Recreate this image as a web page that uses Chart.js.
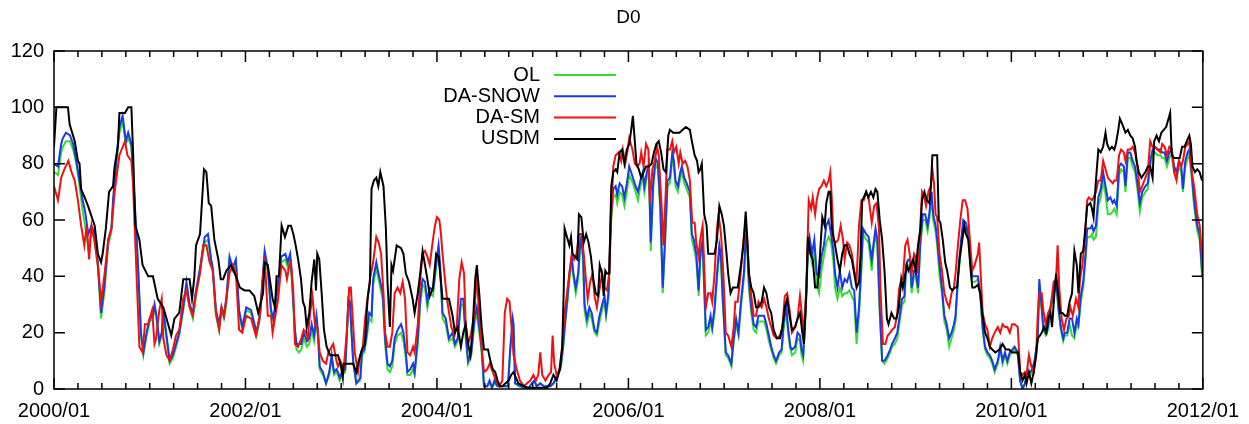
<!DOCTYPE html>
<html>
<head>
<meta charset="utf-8">
<script src="https://cdn.jsdelivr.net/npm/chart.js@4/dist/chart.umd.min.js"></script>
<style>
  body { margin: 0; background: #fff; }
  #wrap { width: 1249px; height: 424px; }
</style>
</head>
<body>
<div id="wrap"><canvas id="D0Chart" width="1249" height="424"></canvas></div>
<script>
// x = months since 2000/01, y = percent area
var usdm = [
  [0,86],[0.3,100],[1.75,100],[1.96,94],[2.6,88],[3.0,81],[3.2,80],[3.4,71],[3.85,68],[4.26,65],[5.1,58],[5.5,48],[5.9,45],[6.1,48],[6.5,57],[6.9,70],[7.4,72],[7.6,79],[8.0,86],[8.2,98],[8.9,98],[9.3,100],[9.7,100],[9.9,85],[10.2,58],[10.7,53],[11.1,44],[11.8,40],[12.4,40],[13.0,32],[13.7,29],[14.1,25],[14.7,19],[15.1,25],[15.7,27],[16.2,39],[17.0,39],[17.3,32],[17.6,40],[17.8,51],[18.3,55],[18.8,78],[19.1,77],[19.4,66],[19.7,65],[20.1,53],[20.6,46],[20.9,39],[21.2,39],[21.6,42],[22.2,44],[22.8,40],[23.3,36],[23.9,35],[24.5,35],[25.1,33],[25.6,27],[26.2,34],[26.4,45],[26.8,44],[27.4,32],[27.7,29],[27.9,40],[28.2,40],
  [28.53,58],[28.95,54],[29.37,58],[29.7,58],[30.0,55],[30.29,51],[30.6,46],[30.96,39],[31.2,31],[31.45,29],[31.67,22],[32.0,27],[32.29,38],[32.63,46],[32.84,35],[33.0,48],[33.25,46],[33.55,34],[33.84,21],[34.17,15],[34.6,12],[35.2,12],[35.6,12],[35.97,8],[36.2,4],[36.3,9],[36.7,9],[37.5,9],[37.9,6],[38.1,9],[38.6,14],[38.97,16],[39.3,32],[39.6,38],[39.8,71],[40.1,74],[40.4,75],[40.65,72],[40.9,77],[41.3,72],[41.6,57],[41.8,38],[42.1,22],[42.3,44],[42.5,42],[42.95,51],
  [43.5,50],[43.8,48],[44.1,41],[44.5,38],[44.95,32],[45.2,27],[45.6,34],[45.9,41],[46.2,49],[46.5,44],[46.8,39],[47.1,33],[47.5,36],[47.9,48],[48.2,47],[48.4,41],[48.7,32],[49.1,32],[49.5,32],[49.96,26],[50.25,20],[50.6,22],[51.0,15],[51.3,20],[51.6,23],[51.9,16],[52.2,12],[52.5,23],[52.8,39],[53.0,44],[53.3,34],[53.6,22],[53.9,14],[54.4,14],[54.7,10],[55.0,7],[55.3,6],[55.6,3],[55.9,1],[56.2,1],[56.6,2],[57.0,3],[57.3,5],[57.6,6],
  [58.2,2],[58.9,1],[59.5,0.4],[60.1,0.4],[60.7,0.4],[61.4,0.4],[61.8,0.4],[62.2,2],[62.6,5],[63.0,3],[63.4,7],[63.7,15],[63.9,36],[64.0,57],[64.3,54],[64.6,51],[64.8,54],[65.0,48],[65.3,47],[65.6,46],[65.8,62],[66.1,61],[66.4,52],[66.7,55],[67.0,52],[67.3,47],[67.6,39],[67.9,34],[68.2,33],[68.4,44],[68.7,41],[68.9,33],[69.1,42],[69.3,41],[69.6,41],[69.85,72],[70.1,77],[70.4,78],[70.6,77],[70.9,84],[71.2,85],[71.5,80],[71.8,85],[72.1,87],
  [72.35,92],[72.56,97],[72.8,88],[73.0,80],[73.3,78],[73.6,75],[73.9,77],[74.2,79],[74.56,79],[74.9,80],[75.2,84],[75.5,87],[75.8,88],[76.1,84],[76.4,78],[76.7,77],[77.0,90],[77.2,92],[77.6,91],[78.0,91],[78.4,91],[78.8,92],[79.2,93],[79.7,92],[79.95,88],[80.3,83],[80.6,81],[80.8,77],[81.0,78],[81.2,80],[81.5,62],[81.8,58],[82.0,48],[82.4,48],[82.8,48],[83.1,53],[83.4,65],[83.7,62],[83.97,58],[84.3,48],[84.5,41],[84.8,34],[85.1,36],[85.4,36],[85.7,36],[86.1,44],[86.4,51],[86.7,63],[86.9,53],
  [87.1,41],[87.4,36],[87.7,34],[88.0,29],[88.3,29],[88.7,31],[89.0,36],[89.3,34],[89.6,29],[89.9,27],[90.2,21],[90.6,18],[91.0,18],[91.3,22],[91.6,29],[91.9,32],[92.2,26],[92.5,21],[92.9,22],[93.2,25],[93.5,27],[93.8,20],[94.0,16],[94.3,34],[94.5,54],[94.8,48],[95.1,46],[95.4,36],[95.7,36],[96.0,47],[96.3,61],[96.6,58],[96.8,66],[97.1,70],[97.3,70],[97.5,57],[97.9,51],[98.2,46],[98.5,42],[98.8,48],[99.1,51],[99.4,51],[99.7,48],[100.0,46],[100.3,41],[100.6,36],[100.9,38],[101.1,48],[101.3,67],
  [101.5,68],[101.8,70],[102.05,68],[102.4,70],[102.7,68],[102.97,71],[103.2,70],[103.5,60],[103.8,53],[104.1,42],[104.4,25],[104.6,23],[104.97,27],[105.3,25],[105.6,25],[105.9,29],[106.2,39],[106.4,36],[106.6,39],[106.9,44],[107.1,42],[107.4,44],[107.7,46],[108.0,42],[108.3,51],[108.6,57],[108.8,67],[109.1,70],[109.4,67],[109.7,66],[109.9,71],[110.1,83],[110.4,83],[110.7,83],[110.9,60],[111.1,59],[111.4,53],[111.7,45],[111.95,42],[112.3,36],[112.6,35],[112.9,36],[113.2,36],[113.5,46],[113.8,52],[114.1,58],[114.3,55],[114.6,53],[114.9,42],[115.1,36],[115.4,36],[115.8,37],
  [116.1,34],[116.4,26],[116.7,20],[117.0,18],[117.3,15],[117.6,14],[118.0,13],[118.5,14],[118.9,16],[119.3,14],[119.7,14],[120.1,13],[120.6,13],[120.85,13],[121.1,6],[121.4,3],[121.7,5],[121.9,2],[122.2,6],[122.5,2],[122.8,6],[123.1,12],[123.3,18],[123.6,19],[123.8,20],[124.1,22],[124.4,20],[124.6,25],[124.9,27],[125.1,22],[125.4,34],[125.6,41],[125.9,33],[126.1,27],[126.4,27],[126.7,26],[127.0,26],[127.3,31],[127.6,34],[127.9,49],[128.2,44],[128.4,34],[128.7,48],[129.0,49],[129.3,58],[129.5,65],[129.9,66],[130.1,64],[130.3,61],
  [130.6,74],[130.9,85],[131.2,84],[131.5,86],[131.8,91],[132.0,87],[132.3,85],[132.6,86],[132.9,85],[133.1,87],[133.4,92],[133.6,96],[133.9,94],[134.3,91],[134.6,92],[134.9,90],[135.2,89],[135.5,86],[135.7,81],[135.97,77],[136.3,75],[136.8,77],[137.1,79],[137.4,79],[137.7,75],[137.9,88],[138.2,90],[138.5,88],[138.8,91],[139.1,92],[139.4,93],[139.7,96],[139.9,98],[140.1,83],[140.4,82],[140.7,82],[141.1,82],[141.4,86],[141.7,86],[141.99,88],[142.3,90],[142.5,87],[142.7,79],[143.0,77],[143.3,78],[143.6,77],[143.9,74],[144.0,74]
];

var daSm = [
  [0,72],[0.5,67],[0.9,75],[1.3,78],[1.8,81],[2.2,77],[2.6,74],[3.0,67],[3.4,58],[3.8,51],[4.1,58],[4.4,46],[4.7,58],[5.1,52],[5.5,44],[5.9,31],[6.3,40],[6.8,53],[7.2,57],[7.6,70],[8.2,83],[8.9,88],[9.2,83],[9.7,81],[9.9,73],[10.3,44],[10.7,15],[11.1,13],[11.4,23],[11.8,23],[12.3,28],[12.6,16],[12.8,18],[13.2,28],[13.5,32],[13.7,18],[14.1,12],[14.5,10],[14.9,14],[15.3,19],[15.7,21],[16.2,32],[16.6,35],[17.0,29],[17.4,26],[17.8,34],[18.3,41],[18.7,51],[19.1,51],[19.5,45],[19.9,42],[20.3,27],[20.7,21],[21.0,29],[21.3,26],[21.6,32],[22.0,41],[22.4,44],[22.8,41],[23.2,21],[23.6,20],[24.1,26],[24.7,25],[25.3,19],[25.8,26],[26.4,47],[26.8,26],[27.2,26],[27.4,20],[28.1,32],
  [28.5,44],[29.0,42],[29.2,39],[29.5,44],[29.7,45],[30.0,34],[30.2,16],[30.6,15],[31.0,18],[31.3,21],[31.6,20],[31.8,18],[32.1,27],[32.4,33],[32.7,23],[33.0,22],[33.3,13],[33.7,10],[34.1,9],[34.4,13],[35.0,16],[35.4,10],[35.6,8],[35.9,10],[36.3,7],[36.7,20],[37.0,36],[37.2,36],[37.4,27],[37.7,13],[38.1,6],[38.4,12],[38.7,15],[39.0,25],[39.3,32],[39.6,39],[40.0,45],[40.4,54],[40.7,52],[41.0,48],[41.3,34],[41.5,20],[41.8,15],[42.1,15],[42.4,20],[42.7,34],[43.07,36],
  [43.4,34],[43.7,38],[44.0,32],[44.3,13],[44.65,12],[45.0,15],[45.2,13],[45.6,23],[45.9,39],[46.2,48],[46.5,49],[46.8,47],[47.1,44],[47.5,53],[47.75,58],[48.0,61],[48.3,60],[48.5,55],[48.7,48],[49.0,39],[49.3,31],[49.8,22],[50.2,19],[50.5,23],[50.8,39],[51.1,45],[51.4,41],[51.6,23],[51.9,16],[52.3,20],[52.7,27],[53.0,41],[53.3,26],[53.6,15],[53.9,6],[54.3,7],[54.6,9],[55.0,6],[55.4,3],[55.8,1],[56.2,3],[56.5,27],[56.8,32],[57.1,31],[57.4,20],[57.6,12],
  [58.0,7],[58.4,3],[58.9,1],[59.3,2],[59.7,3],[60.1,5],[60.4,3],[60.7,5],[60.95,13],[61.2,5],[61.6,3],[62.0,5],[62.3,6],[62.5,19],[62.7,9],[63.0,5],[63.3,6],[63.7,15],[64.0,27],[64.3,34],[64.6,41],[64.9,48],[65.2,46],[65.5,48],[65.8,55],[66.1,55],[66.4,48],[66.7,38],[66.9,32],[67.2,38],[67.5,41],[67.75,33],[68.05,29],[68.3,34],[68.7,41],[69.0,36],[69.3,35],[69.6,41],[69.85,62],[70.1,79],[70.4,83],[70.8,84],[71.1,81],[71.3,85],[71.6,80],[71.9,85],[72.1,89],
  [72.5,85],[72.8,80],[73.1,79],[73.4,80],[73.6,84],[73.9,79],[74.2,87],[74.5,85],[74.7,66],[75.0,78],[75.3,81],[75.6,86],[75.8,83],[76.1,68],[76.4,51],[76.6,65],[76.9,85],[77.2,85],[77.5,88],[77.7,84],[78.0,86],[78.3,80],[78.5,84],[78.8,80],[79.1,81],[79.4,79],[79.7,74],[80.0,59],[80.3,59],[80.5,52],[80.8,47],[81.0,53],[81.3,58],[81.7,29],[82.0,34],[82.3,34],[82.5,31],[82.8,41],[83.1,57],[83.3,62],[83.6,55],[83.9,41],[84.2,20],[84.5,19],[84.9,15],[85.2,22],[85.4,31],[85.7,31],[86.1,42],[86.4,52],[86.7,59],
  [86.9,53],[87.1,41],[87.4,33],[87.7,26],[88.0,26],[88.3,31],[88.7,29],[89.0,32],[89.3,29],[89.6,25],[89.9,22],[90.2,19],[90.6,18],[91.0,19],[91.3,22],[91.6,33],[91.9,34],[92.2,28],[92.5,20],[92.9,22],[93.2,25],[93.5,33],[93.8,25],[94.0,20],[94.3,36],[94.6,67],[94.9,64],[95.1,68],[95.4,62],[95.6,67],[95.9,71],[96.2,72],[96.5,74],[96.8,72],[97.1,74],[97.3,77],[97.5,67],[97.7,53],[98.0,52],[98.3,53],[98.6,58],[98.9,53],[99.1,46],[99.4,52],[99.7,51],[100.0,48],[100.3,42],[100.6,39],[100.9,58],[101.2,67],
  [101.5,67],[101.8,70],[102.1,68],[102.5,59],[102.8,65],[103.1,66],[103.4,57],[103.6,35],[103.9,16],[104.2,16],[104.5,19],[104.8,20],[105.05,21],[105.4,22],[105.7,27],[105.9,35],[106.2,39],[106.4,39],[106.7,51],[106.98,53],[107.3,47],[107.5,41],[107.8,48],[108.0,47],[108.2,41],[108.5,53],[108.8,70],[109.1,68],[109.3,65],[109.6,70],[109.9,72],[110.1,78],[110.3,73],[110.5,62],[110.7,61],[111.0,48],[111.3,42],[111.6,34],[111.9,31],[112.2,29],[112.5,34],[112.8,36],[113.0,41],[113.3,51],[113.6,60],[113.9,67],[114.2,67],[114.5,64],[114.8,53],[115.1,42],[115.4,44],[115.8,48],
  [115.96,52],[116.1,44],[116.4,27],[116.7,23],[117.0,21],[117.3,15],[117.6,18],[117.9,20],[118.3,22],[118.6,20],[118.9,23],[119.2,22],[119.5,22],[119.8,20],[120.1,23],[120.4,23],[120.8,22],[121.1,6],[121.4,5],[121.7,6],[121.9,5],[122.2,12],[122.5,8],[122.8,6],[123.1,12],[123.3,26],[123.5,34],[123.8,34],[124.0,28],[124.3,23],[124.6,27],[124.9,29],[125.3,38],[125.6,39],[125.8,51],[126.0,36],[126.3,25],[126.6,21],[126.9,25],[127.2,26],[127.4,29],[127.7,26],[128.1,32],[128.4,29],[128.6,39],[128.9,44],[129.2,53],[129.5,67],[129.7,68],[130.1,67],[130.3,68],
  [130.6,70],[130.9,74],[131.2,74],[131.5,81],[131.8,78],[132.1,75],[132.4,74],[132.7,73],[132.9,74],[133.2,74],[133.5,83],[133.75,85],[134.1,84],[134.3,81],[134.6,85],[134.9,85],[135.2,86],[135.5,84],[135.8,79],[136.1,70],[136.4,72],[136.8,75],[137.1,77],[137.4,88],[137.7,86],[138.0,86],[138.3,85],[138.7,84],[138.9,87],[139.2,86],[139.5,83],[139.8,86],[140.1,85],[140.4,77],[140.7,74],[141.0,81],[141.3,79],[141.5,81],[141.8,86],[142.1,87],[142.3,88],[142.6,77],[142.9,72],[143.3,62],[143.6,58],[143.8,51],[144.0,41]
];

var daSnow = [
  [0,80],[0.5,79],[0.9,87],[1.1,89],[1.5,91],[2.0,90],[2.4,87],[2.8,81],[3.2,74],[3.6,67],[3.9,63],[4.3,55],[4.7,58],[5.1,55],[5.5,45],[5.9,27],[6.3,36],[6.8,53],[7.2,57],[7.4,67],[7.8,81],[8.2,93],[8.6,97],[9.0,88],[9.3,91],[9.7,87],[10.1,67],[10.5,46],[10.9,20],[11.2,13],[11.6,20],[12.0,25],[12.4,26],[12.6,30],[12.8,27],[13.2,17],[13.5,20],[13.7,28],[14.1,19],[14.5,10],[14.9,12],[15.3,16],[15.7,20],[16.2,29],[16.6,38],[17.0,30],[17.4,27],[17.8,35],[18.3,43],[18.9,54],[19.3,55],[19.7,46],[19.9,43],[20.3,28],[20.7,23],[21.0,29],[21.3,26],[21.6,32],[22.0,47],[22.4,43],[22.8,46],[23.2,28],[23.6,22],[24.1,29],[24.7,28],[25.4,20],[25.8,26],[26.4,49],[26.8,43],[27.2,28],[27.5,25],[28.1,38],
  [28.5,47],[29.0,48],[29.3,45],[29.6,48],[29.8,41],[30.2,21],[30.4,16],[30.7,16],[31.0,16],[31.3,20],[31.7,17],[32.0,18],[32.3,23],[32.6,19],[32.9,26],[33.1,20],[33.3,8],[33.7,6],[34.1,2],[34.5,6],[34.8,12],[35.1,6],[35.4,7],[35.6,6],[35.8,4],[36.1,6],[36.5,7],[36.9,32],[37.1,31],[37.3,20],[37.5,10],[37.9,2],[38.4,4],[38.6,13],[38.9,14],[39.2,20],[39.5,27],[39.8,26],[40.0,39],[40.4,45],[40.6,42],[40.9,38],[41.2,34],[41.5,18],[41.8,9],[42.1,8],[42.4,10],[42.7,18],[43.07,21],
  [43.5,23],[43.8,20],[44.1,13],[44.3,6],[44.65,7],[45.0,9],[45.2,6],[45.6,18],[45.9,32],[46.2,39],[46.5,38],[46.8,31],[47.1,36],[47.5,35],[47.9,45],[48.2,51],[48.4,44],[48.7,27],[49.1,25],[49.5,18],[49.96,20],[50.25,16],[50.6,18],[51.0,32],[51.3,32],[51.6,20],[51.9,10],[52.3,13],[52.7,25],[53.0,29],[53.3,22],[53.6,15],[53.9,1],[54.3,1],[54.6,3],[54.9,0.4],[55.2,3],[55.6,1],[56.0,1],[56.4,1],[56.9,1],[57.2,15],[57.5,25],[57.6,23],
  [57.8,2],[58.2,1.5],[58.9,0.4],[59.5,0.4],[59.9,2],[60.2,3],[60.5,1],[60.95,2],[61.4,1],[61.8,1],[62.2,1],[62.6,2],[63.0,4.5],[63.5,8],[63.8,15],[64.1,25],[64.4,34],[64.6,41],[64.9,47],[65.1,41],[65.4,36],[65.7,41],[65.97,53],[66.3,49],[66.5,30],[66.8,25],[67.1,29],[67.4,27],[67.75,21],[68.05,20],[68.3,25],[68.7,30],[69.0,33],[69.2,27],[69.5,34],[69.8,62],[70.1,71],[70.4,72],[70.6,69],[70.9,73],[71.2,72],[71.5,68],[71.8,73],[72.1,79],
  [72.56,75],[72.9,72],[73.2,70],[73.5,74],[73.8,77],[74.0,72],[74.3,77],[74.56,80],[74.8,52],[75.1,73],[75.4,82],[75.7,80],[76.0,65],[76.3,36],[76.6,54],[76.9,74],[77.2,75],[77.5,84],[77.7,81],[77.9,74],[78.2,72],[78.5,77],[78.7,79],[79.0,75],[79.3,73],[79.7,70],[79.95,55],[80.2,53],[80.5,48],[80.8,35],[81.0,48],[81.3,53],[81.7,21],[82.0,22],[82.3,26],[82.5,22],[82.8,29],[83.1,41],[83.4,51],[83.6,47],[83.8,34],[84.2,13],[84.5,12],[84.9,9],[85.2,18],[85.5,25],[85.8,20],[86.1,31],[86.5,42],[86.7,55],
  [86.9,51],[87.1,38],[87.4,29],[87.7,23],[88.0,22],[88.3,26],[88.7,26],[89.0,26],[89.3,23],[89.6,19],[89.9,15],[90.2,12],[90.5,10],[90.9,13],[91.2,14],[91.5,25],[91.8,29],[92.0,22],[92.3,15],[92.5,14],[92.9,15],[93.2,20],[93.5,19],[93.7,14],[93.9,12],[94.2,28],[94.5,51],[94.7,54],[95.0,48],[95.3,53],[95.6,41],[95.9,40],[96.2,47],[96.5,51],[96.8,58],[97.1,60],[97.4,55],[97.7,49],[97.9,41],[98.2,36],[98.5,42],[98.8,36],[99.1,39],[99.4,38],[99.7,41],[100.0,36],[100.3,35],[100.6,20],[100.9,29],[101.2,45],
  [101.4,57],[101.8,55],[102.1,54],[102.5,46],[102.7,51],[102.97,57],[103.2,53],[103.5,29],[103.8,10],[104.1,10],[104.5,12],[104.8,14],[105.05,16],[105.4,18],[105.7,20],[106.0,26],[106.3,32],[106.6,33],[106.8,44],[107.1,46],[107.3,46],[107.5,36],[107.8,42],[108.0,42],[108.3,36],[108.6,53],[108.9,62],[109.2,62],[109.5,58],[109.7,62],[110.0,70],[110.2,62],[110.5,58],[110.7,53],[111.0,44],[111.3,36],[111.6,26],[111.9,23],[112.2,18],[112.5,20],[112.8,23],[113.0,26],[113.3,40],[113.7,53],[113.97,60],[114.3,59],[114.6,55],[114.9,46],[115.1,40],[115.4,40],[115.8,40],
  [116.1,34],[116.4,22],[116.7,15],[117.0,13],[117.3,12],[117.6,10],[117.9,7],[118.3,10],[118.6,15],[118.9,10],[119.2,13],[119.5,10],[119.8,13],[120.1,14],[120.4,15],[120.8,13],[121.1,3],[121.4,0],[121.7,2],[122.0,6],[122.4,6],[122.6,7],[122.9,10],[123.3,18],[123.5,39],[123.8,29],[124.0,22],[124.3,20],[124.6,22],[124.9,29],[125.3,34],[125.6,39],[125.9,29],[126.2,22],[126.5,18],[126.7,20],[127.0,20],[127.3,25],[127.6,25],[127.9,20],[128.2,25],[128.4,23],[128.7,33],[129.0,38],[129.3,48],[129.5,57],[129.9,57],[130.1,58],[130.3,56],
  [130.6,58],[130.9,68],[131.2,71],[131.5,77],[131.8,72],[132.1,67],[132.4,68],[132.7,66],[132.9,67],[133.2,65],[133.5,79],[133.75,80],[134.1,79],[134.3,72],[134.6,84],[134.9,84],[135.2,81],[135.5,79],[135.8,73],[136.1,66],[136.4,70],[136.8,72],[137.1,73],[137.4,81],[137.7,85],[138.0,86],[138.3,85],[138.7,85],[138.9,84],[139.2,84],[139.5,81],[139.8,84],[140.1,85],[140.4,79],[140.7,77],[141.0,81],[141.3,79],[141.5,71],[141.8,81],[142.1,84],[142.3,85],[142.6,77],[142.9,67],[143.3,58],[143.6,55],[143.9,42],[144.0,40]
];

var ol = [
  [0,77],[0.5,76],[0.9,84],[1.1,86],[1.5,88],[2.0,88],[2.4,85],[2.8,80],[3.2,72],[3.6,63],[3.9,58],[4.3,50],[4.7,56],[5.1,53],[5.5,43],[5.9,25],[6.3,34],[6.8,51],[7.2,56],[7.4,65],[7.8,79],[8.2,91],[8.6,95],[9.0,87],[9.3,89],[9.7,86],[10.1,66],[10.5,45],[10.9,19],[11.2,12],[11.6,19],[12.0,24],[12.4,25],[12.6,29],[12.8,26],[13.2,16],[13.5,19],[13.7,27],[14.1,18],[14.5,9],[14.9,11],[15.3,15],[15.7,19],[16.2,28],[16.6,36],[17.0,29],[17.4,25],[17.8,33],[18.3,42],[18.9,52],[19.3,53],[19.7,45],[19.9,42],[20.3,26],[20.7,21],[21.0,28],[21.3,25],[21.6,30],[22.0,45],[22.4,42],[22.8,44],[23.2,27],[23.6,21],[24.1,28],[24.7,27],[25.4,19],[25.8,25],[26.4,47],[26.8,42],[27.2,27],[27.5,24],[28.1,37],
  [28.5,45],[29.0,46],[29.3,43],[29.6,46],[29.8,39],[30.2,19],[30.4,14],[30.7,13],[31.0,14],[31.3,18],[31.7,15],[32.0,16],[32.3,21],[32.6,17],[32.9,24],[33.1,18],[33.3,7],[33.7,5],[34.1,2],[34.5,5],[34.8,11],[35.1,5],[35.4,6],[35.6,5],[35.8,3],[36.1,5],[36.5,6],[36.9,30],[37.1,29],[37.3,19],[37.5,9],[37.9,2],[38.4,3],[38.6,12],[38.9,13],[39.2,18],[39.5,25],[39.8,24],[40.0,37],[40.4,43],[40.6,40],[40.9,36],[41.2,32],[41.5,16],[41.8,7],[42.1,6],[42.4,8],[42.7,16],[43.07,19],
  [43.5,20],[43.8,17],[44.1,11],[44.3,5],[44.65,5],[45.0,7],[45.2,5],[45.6,16],[45.9,30],[46.2,37],[46.5,36],[46.8,29],[47.1,34],[47.5,33],[47.9,43],[48.2,49],[48.4,42],[48.7,25],[49.1,23],[49.5,17],[49.96,18],[50.25,15],[50.6,17],[51.0,30],[51.3,30],[51.6,18],[51.9,9],[52.3,12],[52.7,23],[53.0,27],[53.3,20],[53.6,13],[53.9,1],[54.3,1],[54.6,2],[54.9,0.4],[55.2,2],[55.6,1],[56.0,1],[56.4,1],[56.9,1],[57.2,14],[57.5,23],[57.6,21],
  [57.8,2],[58.2,1],[58.9,0.4],[59.5,0.4],[59.9,2],[60.2,3],[60.5,1],[60.95,2],[61.4,1],[61.8,1],[62.2,1],[62.6,2],[63.0,4],[63.5,7],[63.8,14],[64.1,24],[64.4,32],[64.6,39],[64.9,45],[65.1,40],[65.4,34],[65.7,39],[65.97,51],[66.3,47],[66.5,28],[66.8,23],[67.1,27],[67.4,25],[67.75,20],[68.05,19],[68.3,23],[68.7,28],[69.0,31],[69.2,26],[69.5,32],[69.8,59],[70.1,68],[70.4,69],[70.6,66],[70.9,70],[71.2,69],[71.5,65],[71.8,70],[72.1,76],
  [72.56,73],[72.9,70],[73.2,67],[73.5,72],[73.8,75],[74.0,70],[74.3,75],[74.56,78],[74.8,49],[75.1,71],[75.4,80],[75.7,78],[76.0,63],[76.3,34],[76.6,52],[76.9,72],[77.2,73],[77.5,82],[77.7,79],[77.9,72],[78.2,70],[78.5,75],[78.7,77],[79.0,73],[79.3,71],[79.7,68],[79.95,53],[80.2,50],[80.5,46],[80.8,33],[81.0,46],[81.3,51],[81.7,19],[82.0,20],[82.3,24],[82.5,21],[82.8,27],[83.1,39],[83.4,49],[83.6,45],[83.8,32],[84.2,12],[84.5,11],[84.9,8],[85.2,17],[85.5,23],[85.8,19],[86.1,29],[86.5,40],[86.7,53],
  [86.9,49],[87.1,36],[87.4,27],[87.7,21],[88.0,20],[88.3,24],[88.7,24],[89.0,24],[89.3,21],[89.6,17],[89.9,14],[90.2,11],[90.5,9],[90.9,12],[91.2,13],[91.5,23],[91.8,27],[92.0,20],[92.3,14],[92.5,12],[92.9,13],[93.2,18],[93.5,17],[93.7,12],[93.9,10],[94.2,26],[94.5,48],[94.7,51],[95.0,45],[95.3,49],[95.6,37],[95.9,34],[96.2,42],[96.5,47],[96.8,52],[97.1,54],[97.4,52],[97.7,45],[97.9,36],[98.2,32],[98.5,36],[98.8,33],[99.1,34],[99.4,34],[99.7,35],[100.0,33],[100.3,31],[100.6,16],[100.9,26],[101.2,42],
  [101.4,55],[101.8,53],[102.1,52],[102.5,42],[102.7,49],[102.97,55],[103.2,51],[103.5,27],[103.8,10],[104.1,9],[104.5,11],[104.8,13],[105.05,15],[105.4,16],[105.7,18],[106.0,24],[106.3,30],[106.6,31],[106.8,42],[107.1,44],[107.3,44],[107.5,34],[107.8,40],[108.0,40],[108.3,34],[108.6,51],[108.9,60],[109.2,60],[109.5,56],[109.7,60],[110.0,68],[110.2,60],[110.5,56],[110.7,51],[111.0,40],[111.3,34],[111.6,24],[111.9,21],[112.2,15],[112.5,18],[112.8,21],[113.0,24],[113.3,38],[113.7,51],[113.97,58],[114.3,57],[114.6,53],[114.9,44],[115.1,38],[115.4,38],[115.8,39],
  [116.1,33],[116.4,21],[116.7,14],[117.0,12],[117.3,11],[117.6,9],[117.9,6],[118.3,9],[118.6,14],[118.9,9],[119.2,12],[119.5,9],[119.8,12],[120.1,13],[120.4,14],[120.8,12],[121.1,3],[121.4,0],[121.7,2],[122.0,5],[122.4,5],[122.6,6],[122.9,9],[123.3,17],[123.5,37],[123.8,28],[124.0,21],[124.3,19],[124.6,21],[124.9,28],[125.3,33],[125.6,38],[125.9,28],[126.2,21],[126.5,17],[126.7,19],[127.0,19],[127.3,23],[127.6,19],[127.9,18],[128.2,23],[128.4,22],[128.7,31],[129.0,36],[129.3,46],[129.5,54],[129.9,54],[130.1,55],[130.3,53],
  [130.6,54],[130.9,65],[131.2,68],[131.5,74],[131.8,69],[132.1,62],[132.4,62],[132.7,63],[132.9,64],[133.2,62],[133.5,76],[133.75,78],[134.1,77],[134.3,70],[134.6,82],[134.9,82],[135.2,79],[135.5,77],[135.8,71],[136.1,63],[136.4,68],[136.8,70],[137.1,71],[137.4,79],[137.7,83],[138.0,84],[138.3,83],[138.7,83],[138.9,82],[139.2,82],[139.5,79],[139.8,82],[140.1,83],[140.4,77],[140.7,75],[141.0,79],[141.3,77],[141.5,70],[141.8,79],[142.1,82],[142.3,83],[142.6,75],[142.9,65],[143.3,56],[143.6,53],[143.9,40],[144.0,39]
];

var seriesNames = ['OL', 'DA-SNOW', 'DA-SM', 'USDM'];
var seriesColors = ['#33dd33', '#1a3ae6', '#ee1111', '#000000'];
var yTicks = [0, 20, 40, 60, 80, 100, 120];
var startYear = 2000;

var FONT = '"Liberation Sans", Arial, Helvetica, sans-serif';

function toXY(arr) {
  return arr.map(function (p) { return { x: p[0], y: p[1] }; });
}

// frame + inward ticks on all four sides, like the gnuplot original
var frameTicks = {
  id: 'frameTicks',
  afterDatasetsDraw: function (chart) {
    var ctx = chart.ctx, a = chart.chartArea;
    var xs = chart.scales.x, ys = chart.scales.y;
    ctx.save();
    ctx.strokeStyle = '#000';
    ctx.lineWidth = 1.5;
    ctx.beginPath();
    yTicks.forEach(function (v) {
      var py = ys.getPixelForValue(v);
      ctx.moveTo(a.left, py); ctx.lineTo(a.left + 11, py);
      ctx.moveTo(a.right, py); ctx.lineTo(a.right - 11, py);
    });
    for (var m = 0; m <= 144; m += 3) {
      var px = xs.getPixelForValue(m);
      var len = (m % 24 === 0) ? 11 : 6;
      ctx.moveTo(px, a.bottom); ctx.lineTo(px, a.bottom - len);
      ctx.moveTo(px, a.top); ctx.lineTo(px, a.top + len);
    }
    ctx.stroke();
    ctx.strokeRect(a.left, a.top, a.right - a.left, a.bottom - a.top);

    // title
    ctx.fillStyle = '#000';
    ctx.font = '19px ' + FONT;
    ctx.textAlign = 'center';
    ctx.textBaseline = 'middle';
    ctx.fillText('D0', (a.left + a.right) / 2, 18);

    // key, text right aligned with the sample on the right
    ctx.font = '20px ' + FONT;
    ctx.textAlign = 'right';
    ctx.lineWidth = 2;
    for (var i = 0; i < seriesNames.length; i++) {
      var ky = 75 + i * 21.3;
      ctx.fillStyle = '#000';
      ctx.fillText(seriesNames[i], 540, ky);
      ctx.strokeStyle = seriesColors[i];
      ctx.beginPath();
      ctx.moveTo(554, ky); ctx.lineTo(616, ky);
      ctx.stroke();
    }
    ctx.restore();
  }
};

var ctxD0 = document.getElementById('D0Chart').getContext('2d');
var d0Chart = new Chart(ctxD0, {
  type: 'line',
  data: {
    datasets: [
      { label: 'USDM', data: toXY(usdm), borderColor: seriesColors[3] },
      { label: 'DA-SM', data: toXY(daSm), borderColor: seriesColors[2] },
      { label: 'DA-SNOW', data: toXY(daSnow), borderColor: seriesColors[1] },
      { label: 'OL', data: toXY(ol), borderColor: seriesColors[0] }
    ]
  },
  options: {
    responsive: false,
    animation: false,
    devicePixelRatio: 1,
    layout: { padding: { top: 51, right: 45, left: 0, bottom: 0 } },
    elements: {
      line: { borderWidth: 2, tension: 0, fill: false },
      point: { radius: 0, hoverRadius: 0 }
    },
    plugins: {
      legend: { display: false },
      title: { display: false },
      tooltip: { enabled: false }
    },
    scales: {
      x: {
        type: 'linear',
        min: 0,
        max: 144,
        grid: { display: false, drawTicks: false },
        border: { display: false },
        afterFit: function (s) { s.height = 35; },
        ticks: {
          stepSize: 24,
          autoSkip: false,
          maxRotation: 0,
          padding: 10,
          color: '#000',
          font: { size: 20, family: FONT },
          callback: function (v) { return (startYear + v / 12) + '/01'; }
        }
      },
      y: {
        min: 0,
        max: 120,
        grid: { display: false, drawTicks: false },
        border: { display: false },
        afterFit: function (s) { s.width = 54; },
        ticks: {
          stepSize: 20,
          padding: 10,
          color: '#000',
          font: { size: 20, family: FONT }
        }
      }
    }
  },
  plugins: [frameTicks]
});
</script>
</body>
</html>
